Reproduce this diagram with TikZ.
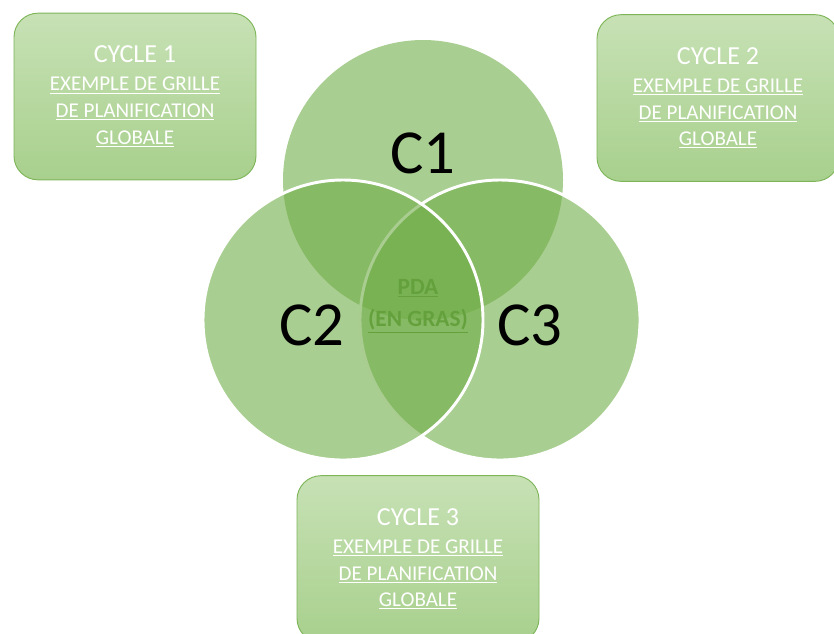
\documentclass[tikz,border=0pt]{standalone}
\usepackage{fontspec}
\setmainfont{Carlito}
\usepackage{tikz}
\usetikzlibrary{positioning}
\definecolor{venngreen}{RGB}{112,173,71}
\definecolor{boxtop}{RGB}{199,225,181}
\definecolor{boxbottom}{RGB}{168,208,141}
\definecolor{pdagreen}{RGB}{40,104,12}
\tikzset{>=latex}

\begin{document}
\begin{tikzpicture}[x=0.75pt,y=-0.75pt,
    venn/.style={circle, fill=venngreen, fill opacity=0.6, minimum size=210pt, inner sep=0pt},
    rim/.style={draw=white, line width=2.2pt},
    clabel/.style={font=\fontsize{47}{52}\selectfont, text=black, inner sep=0pt},
    cyclebox/.style={rectangle, rounded corners=18pt, draw=venngreen!90, line width=0.7pt,
        top color=boxtop, bottom color=boxbottom, minimum width=181.5pt, minimum height=125pt,
        text=white, align=center, font=\fontsize{15.8}{20}\selectfont}]
    \useasboundingbox (0,0) rectangle (834,633);
    % circles
    \node[venn] (c1) at (423,180) {};
    \node[font=\fontsize{17.5}{24}\selectfont\bfseries, text=pdagreen, align=center] (pda) at (418,306) {\underline{PDA}\\\underline{(EN GRAS)}};
    \node[venn, rim] (c3) at (500,320) {};
    \node[venn, rim] (c2) at (343,320) {};
    \node[clabel] (lc1) at (423,153) {C1};
    \node[clabel] (lc2) at (312,325) {C2};
    \node[clabel] (lc3) at (530,325) {C3};
    % boxes
    \node[cyclebox] (cyc1) at (135,96.5) {{\fontsize{19.5}{24}\selectfont CYCLE 1}\\[1pt]\underline{EXEMPLE DE GRILLE}\\\underline{DE PLANIFICATION}\\\underline{GLOBALE}};
    \node[cyclebox] (cyc2) at (718,98) {{\fontsize{19.5}{24}\selectfont CYCLE 2}\\[1pt]\underline{EXEMPLE DE GRILLE}\\\underline{DE PLANIFICATION}\\\underline{GLOBALE}};
    \node[cyclebox] (cyc3) at (418,559) {{\fontsize{19.5}{24}\selectfont CYCLE 3}\\[1pt]\underline{EXEMPLE DE GRILLE}\\\underline{DE PLANIFICATION}\\\underline{GLOBALE}};
\end{tikzpicture}
\end{document}
